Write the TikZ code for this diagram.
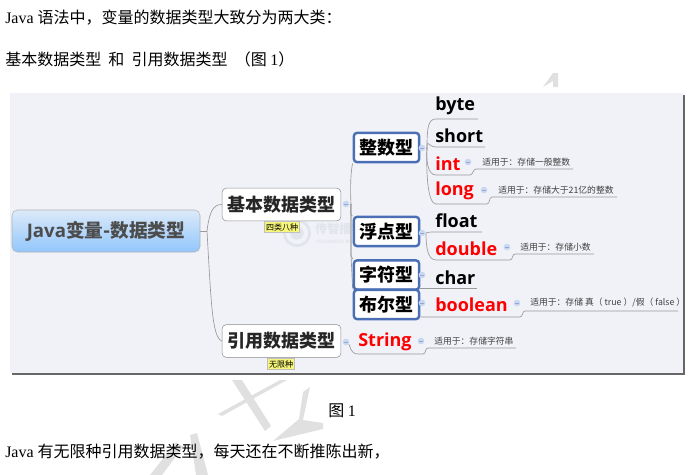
\documentclass[tikz,border=0pt]{standalone}
\usepackage{fontspec}
\usetikzlibrary{backgrounds}
\setmainfont{Liberation Serif}
\newfontfamily\cjk{Noto Sans CJK SC}
\newfontfamily\leaffont{Open Sans}
\definecolor{panelbg}{HTML}{F1F2F8}
\definecolor{boxblue}{HTML}{4A6FB5}
\definecolor{branchgray}{HTML}{9A9A9A}
\definecolor{markgray}{HTML}{E0E0E0}
\definecolor{logogray}{HTML}{E1E4EC}
\definecolor{tagyellow}{HTML}{F6F67A}
\definecolor{foldblue}{HTML}{C9D8F0}
\definecolor{roottop}{HTML}{DCEAFA}
\definecolor{rootbottom}{HTML}{92C6FB}
\tikzset{
  body/.style={anchor=west,inner sep=0pt,font=\fontsize{12}{12}\selectfont},
  rootbox/.style={draw=black!30,rounded corners=4pt,top color=roottop,bottom color=rootbottom,minimum width=141pt,minimum height=31.5pt,inner sep=0pt,font=\cjk\bfseries\fontsize{14}{14}\selectfont,text=black!70},
  midbox/.style={draw=black!45,fill=white,rounded corners=3pt,minimum width=89pt,minimum height=24.5pt,inner sep=0pt,font=\cjk\bfseries\fontsize{13.5}{13.5}\selectfont,text=black!85},
  kindbox/.style={draw=boxblue,line width=1.8pt,fill=white,rounded corners=2.5pt,minimum width=49pt,minimum height=22pt,inner sep=0pt,font=\cjk\bfseries\fontsize{13.5}{13.5}\selectfont},
  leaf/.style={anchor=west,inner sep=0pt,yshift=-1pt,font=\leaffont\bfseries\fontsize{13.5}{13.5}\selectfont},
  hot/.style={leaf,text=red},
  note/.style={anchor=west,inner sep=0pt,text=black!75,font=\cjk\fontsize{6.6}{6.6}\selectfont},
  tag/.style={draw=black!25,fill=tagyellow,inner sep=1.2pt,font=\cjk\fontsize{6}{6}\selectfont},
  fold/.style={circle,fill=foldblue,minimum size=5pt,inner sep=0pt,path picture={\draw[boxblue!60,line width=0.4pt] ([xshift=1.2pt]path picture bounding box.west) -- ([xshift=-1.2pt]path picture bounding box.east);}},
  branch/.style={draw=branchgray,line width=0.5pt}
}
\begin{document}
\begin{tikzpicture}[x=0.75pt,y=-0.75pt]
    \useasboundingbox (0,0) rectangle (693,475);
    % watermark and panel
    \begin{scope}[on background layer]
    \fill[markgray] (232,380) -- (242,380) -- (271,426) -- (265,431) -- cycle;
    \fill[markgray] (280,380) -- (287,380) -- (222,416) -- (218,414) -- cycle;
    \fill[markgray] (303,392) -- (310,387) -- (303,420) -- (323,423) -- (323,429) -- (273,441) -- (299,419) -- cycle;
    \fill[markgray] (150,475) -- (176,442) -- (183,447) -- (162,475) -- cycle;
    \fill[markgray] (190,435) -- (197,433) -- (208,475) -- (196,475) -- cycle;
    \fill[markgray] (543,87) -- (553,73) -- (558,73) -- (558,87) -- (553,87) -- (553,81) -- cycle;
    \fill[black!60] (12,95) rectangle (685,375);
    \fill[panelbg] (10,93) rectangle (683,373);
    \draw[logogray,line width=2pt] (297,233) circle (9.5pt);
    \fill[logogray] (297,233) circle (5pt);
    \node[anchor=west,inner sep=0pt,text=logogray,font=\cjk\bfseries\fontsize{9}{9}\selectfont] (W0) at (315,229) {传智播客};
    \node[anchor=west,inner sep=0pt,text=logogray,font=\leaffont\bfseries\fontsize{3.5}{3.5}\selectfont] (W1) at (316,242) {CHUANGZHI BOKE};
    \end{scope}
    % text lines
    \node[body] (T0) at (5,18) {Java {\cjk 语法中，变量的数据类型大致分为两大类：}};
    \node[body] (T1) at (5,59) {\cjk 基本数据类型\ \ 和\ \ 引用数据类型\ \ （图 {\rmfamily 1}）};
    \node[body] (T2) at (328,411) {\cjk 图 {\rmfamily 1}};
    \node[body] (T3) at (5,452) {Java {\cjk 有无限种引用数据类型，每天还在不断推陈出新，}};
    % main boxes
    \node[rootbox] (R0) at (106,231) {{\leaffont\bfseries Java}变量-数据类型};
    \node[midbox] (M0) at (281.5,204.5) {基本数据类型};
    \node[midbox] (M1) at (281.5,341) {引用数据类型};
    \node[tag] (G0) at (282,227) {四类八种};
    \node[tag] (G1) at (281,364) {无限种};
    \node[kindbox] (K0) at (386.5,147.5) {整数型};
    \node[kindbox] (K1) at (386.5,231.5) {浮点型};
    \node[kindbox] (K2) at (386.5,275) {字符型};
    \node[kindbox] (K3) at (386.5,304.5) {布尔型};
    % fold marks
    \node[fold] (F0) at (346,204) {};
    \node[fold] (F1) at (346,342) {};
    \node[fold] (F2) at (422,148) {};
    \node[fold] (F3) at (422,233) {};
    \node[fold] (F4) at (422,275) {};
    \node[fold] (F5) at (422,303) {};
    \node[fold] (F6) at (468,162) {};
    \node[fold] (F7) at (484,190) {};
    \node[fold] (F8) at (507,247) {};
    \node[fold] (F9) at (517,303) {};
    \node[fold] (F10) at (421,341) {};
    % leaves
    \node[leaf] (L0) at (435,104) {byte};
    \node[leaf] (L1) at (435,134) {short};
    \node[hot] (L2) at (435,162) {int};
    \node[hot] (L3) at (435,189) {long};
    \node[leaf] (L4) at (435,219) {float};
    \node[hot] (L5) at (435,247) {double};
    \node[leaf] (L6) at (435,276) {char};
    \node[hot] (L7) at (435,303) {boolean};
    \node[hot] (L8) at (358,340) {String};
    % notes
    \node[note] (N2) at (482,162) {适用于：存储一般整数};
    \node[note] (N3) at (498,190) {适用于：存储大于21亿的整数};
    \node[note] (N5) at (520,247) {适用于：存储小数};
    \node[note] (N7) at (530,303) {适用于：存储 真（ true ）/假（ false ）};
    \node[note] (N8) at (434,341) {适用于：存储字符串};
    % line ends
    \coordinate (J0) at (207,231);
    \coordinate (J1) at (351,204);
    \coordinate (J2) at (427,148);
    \coordinate (J3) at (426,233);
    \coordinate (E0) at (478,119);
    \coordinate (E1) at (485,147);
    \coordinate (E2) at (470,175);
    \coordinate (E3) at (487,204);
    \coordinate (E4) at (482,232);
    \coordinate (E5) at (510,260);
    \coordinate (E6) at (477,288);
    \coordinate (E7) at (520,317);
    \coordinate (E8) at (423,354);
    \coordinate (C2) at (476,169);
    \coordinate (C3) at (492,197);
    \coordinate (C5) at (515,254);
    \coordinate (C7) at (525,311);
    \coordinate (C8) at (428,348);
    \coordinate (D2) at (573,169);
    \coordinate (D3) at (617,197);
    \coordinate (D5) at (594,254);
    \coordinate (D7) at (678,311);
    \coordinate (D8) at (516,348);
    % branches
    \begin{scope}[on background layer]
    \path[branch] (R0.east) -- (J0);
    \path[branch] (J0) .. controls (209,215) and (212,204) .. (M0.west);
    \path[branch] (J0) .. controls (211,300) and (212,338) .. (M1.west);
    \path[branch] (F0) -- (J1);
    \path[branch] (J1) .. controls (350,185) and (351,170) .. (K0.south west);
    \path[branch] (J1) .. controls (350,212) and (351,218) .. (K1.north west);
    \path[branch] (J1) -- (351,255) -- (K2.north west);
    \path[branch] (J1) -- (351,255) -- (K3.north west);
    \path[branch] (F2) -- (J2);
    \path[branch] (J2) .. controls (427,128) and (428,119) .. (436,119) -- (E0);
    \path[branch] (J2) .. controls (427,138) and (428,147) .. (436,147) -- (E1);
    \path[branch] (J2) .. controls (426,162) and (428,175) .. (436,175) -- (E2) .. controls (473,175) and (473,169) .. (C2) -- (D2);
    \path[branch] (J2) .. controls (426,175) and (428,204) .. (436,204) -- (E3) .. controls (490,204) and (489,197) .. (C3) -- (D3);
    \path[branch] (F3) -- (J3) .. controls (427,233) and (428,232) .. (432,232) -- (E4);
    \path[branch] (J3) .. controls (426,248) and (428,260) .. (436,260) -- (E5) .. controls (513,260) and (512,254) .. (C5) -- (D5);
    \path[branch] (K2.east |- E6) -- (E6);
    \path[branch] (K3.east |- E7) -- (E7) .. controls (523,317) and (522,311) .. (C7) -- (D7);
    \path[branch] (F1) .. controls (350,345) and (350,354) .. (358,354) -- (E8) .. controls (426,354) and (425,348) .. (C8) -- (D8);
    \end{scope}
\end{tikzpicture}
\end{document}
